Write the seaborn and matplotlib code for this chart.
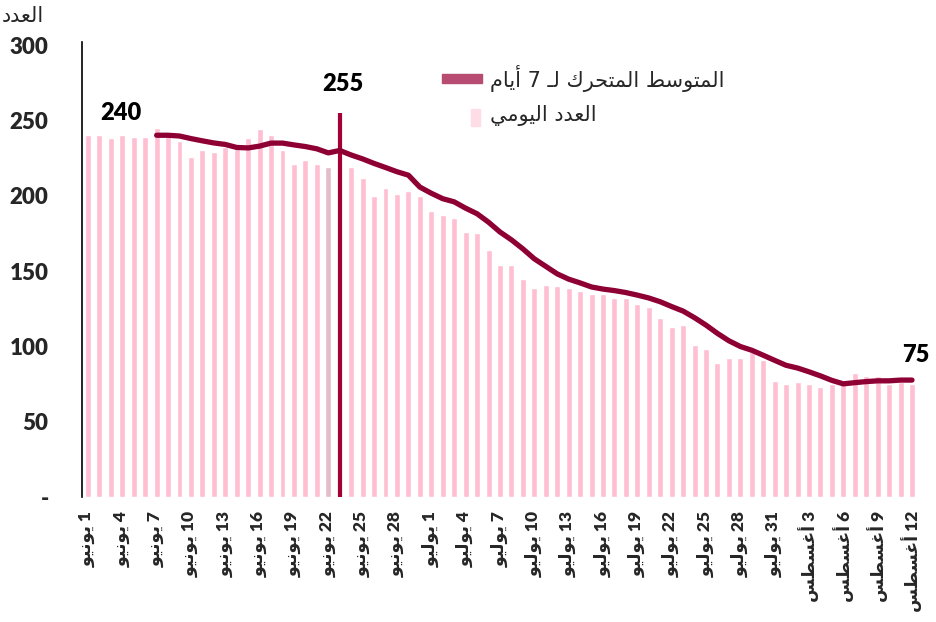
import re
import matplotlib
matplotlib.use("Agg")
import matplotlib.pyplot as plt
from matplotlib.patches import Rectangle
import numpy as np
import pandas as pd
import seaborn as sns

# ---------------- data ----------------
day_numbers = list(range(1, 31)) + list(range(1, 32)) + list(range(1, 13))
month_names = ["يونيو"] * 30 + ["يوليو"] * 31 + ["أغسطس"] * 12

daily = [240, 240, 238, 240, 239, 239, 245, 240, 236, 226,
         230, 229, 232, 231, 238, 244, 240, 230, 221, 224,
         221, 219, 255, 219, 212, 200, 205, 201, 203, 200,
         190, 187, 185, 176, 175, 164, 154, 154, 145, 139,
         141, 140, 139, 137, 135, 135, 132, 132, 128, 126,
         119, 113, 114, 101, 98, 89, 92, 92, 96, 91,
         77, 75, 76, 75, 73, 75, 75, 82, 80, 80,
         75, 76, 75]

moving_avg = [240.1, 240.1, 239.6, 237.9, 236.4, 235.0, 234.0, 232.0, 231.7, 232.9,
              234.9, 234.9, 233.7, 232.6, 231.1, 228.4, 230.0, 227.0, 224.4, 221.4,
              218.7, 215.9, 213.6, 205.7, 201.6, 198.0, 195.9, 191.7, 188.0, 182.4,
              175.9, 170.7, 164.7, 158.1, 153.1, 148.1, 144.6, 142.1, 139.4, 138.0,
              137.0, 135.7, 134.0, 132.1, 129.6, 126.4, 123.4, 119.0, 114.1, 108.6,
              103.7, 99.9, 97.4, 94.1, 90.7, 87.4, 85.6, 83.1, 80.4, 77.4,
              75.1, 75.9, 76.6, 77.1, 77.1, 77.6, 77.6]
ma_first_day = 6      # first day with a full 7-day window
ref_day = 21          # 22 June (highlighted bar)
peak_day = 22         # 23 June (vertical marker)

y_label = "العدد"
legend_ma = "المتوسط المتحرك لـ 7 أيام"
legend_daily = "العدد اليومي"

# ---------------- Arabic shaping helper ----------------
_R = {"ا": ("\uFE8D", "\uFE8E"), "أ": ("\uFE83", "\uFE84"), "د": ("\uFEA9", "\uFEAA"),
      "ر": ("\uFEAD", "\uFEAE"), "و": ("\uFEED", "\uFEEE")}
_D = {"ل": "\uFEDD\uFEDE\uFEDF\uFEE0", "ع": "\uFEC9\uFECA\uFECB\uFECC",
      "ي": "\uFEF1\uFEF2\uFEF3\uFEF4", "م": "\uFEE1\uFEE2\uFEE3\uFEE4",
      "ن": "\uFEE5\uFEE6\uFEE7\uFEE8", "غ": "\uFECD\uFECE\uFECF\uFED0",
      "س": "\uFEB1\uFEB2\uFEB3\uFEB4", "ط": "\uFEC1\uFEC2\uFEC3\uFEC4",
      "ت": "\uFE95\uFE96\uFE97\uFE98", "ح": "\uFEA1\uFEA2\uFEA3\uFEA4",
      "ك": "\uFED9\uFEDA\uFEDB\uFEDC", "ـ": "\u0640\u0640\u0640\u0640"}


def ar(text):
    out = []
    n = len(text)
    for i, c in enumerate(text):
        if c not in _R and c not in _D:
            out.append(c)
            continue
        prev = text[i - 1] if i > 0 else ""
        nxt = text[i + 1] if i + 1 < n else ""
        jp = prev in _D
        jn = c in _D and (nxt in _D or nxt in _R)
        if c in _R:
            out.append(_R[c][1] if jp else _R[c][0])
        else:
            f = _D[c]
            out.append(f[3] if (jp and jn) else f[1] if jp else f[2] if jn else f[0])
    tokens = re.findall(r"[0-9]+|.", "".join(out), flags=re.S)
    return "".join(tokens[::-1])


# ---------------- style ----------------
sns.set_style("white")
FAM = ["Lato", "DejaVu Sans"]
plt.rcParams["font.family"] = FAM

PINK = "#FFBFD3"
GREY = "#E3BCC9"
LINE = "#8E0034"
VLINE = "#A40035"
LEG_LINE = "#B84B72"
LEG_BAR = "#FFDDE7"

fig = plt.figure(figsize=(9.36, 6.22), dpi=100)
ax = fig.add_axes([82 / 936, 125 / 622, 838 / 936, 455 / 622])

df = pd.DataFrame({"pos": np.arange(len(daily)), "count": daily,
                   "day": day_numbers, "month": month_names})
df["kind"] = "daily"
df.loc[ref_day, "kind"] = "ref"
df.loc[peak_day, "kind"] = "peak"
bars = df[df["kind"] != "peak"]

sns.barplot(data=bars, x="pos", y="count", hue="kind",
            palette={"daily": PINK, "ref": GREY}, native_scale=True,
            width=0.52, dodge=False, saturation=1, errorbar=None,
            legend=False, ax=ax)

ax.vlines(df["pos"][peak_day], 0, df["count"][peak_day], color=VLINE, linewidth=3.0, zorder=4)

sns.lineplot(x=df["pos"][ma_first_day:].to_numpy(), y=moving_avg, color=LINE,
             linewidth=3.8, sort=False, ax=ax, zorder=5)

# data labels
lab_font = dict(fontsize=17, fontweight="heavy", color="black", ha="center", va="center")
ax.annotate(str(daily[0]), (df["pos"][0], daily[0]), xytext=(24, 16),
            textcoords="offset points", **lab_font)
ax.annotate(str(daily[peak_day]), (df["pos"][peak_day], daily[peak_day]), xytext=(2, 21),
            textcoords="offset points", **lab_font)
ax.annotate(str(daily[-1]), (df["pos"].iloc[-1], daily[-1]), xytext=(3, 21),
            textcoords="offset points", **lab_font)

# axes
ax.set_xlim(-0.52, 72.7)
ax.set_ylim(0, 302)
yt = [0, 50, 100, 150, 200, 250, 300]
ax.set_yticks(yt, ["-" if v == 0 else str(v) for v in yt])
ax.tick_params(axis="y", length=0, pad=24, labelsize=16)
for t in ax.get_yticklabels():
    t.set_fontweight("heavy")

tick_rows = df.iloc[::3]
ax.set_xticks(tick_rows["pos"],
              [ar(f"{d} {m}") for d, m in zip(tick_rows["day"], tick_rows["month"])],
              rotation=90)
ax.tick_params(axis="x", length=0, pad=10, labelsize=12.5)
for t in ax.get_xticklabels():
    t.set_fontweight("heavy")
    t.set_fontfamily(FAM)

ax.set_xlabel("")
ax.set_ylabel("")
for s in ["top", "right", "bottom"]:
    ax.spines[s].set_visible(False)
ax.spines["left"].set_color("black")
ax.spines["left"].set_linewidth(1.2)

fig.text(2 / 936, 1 - 16 / 622, ar(y_label), fontsize=15, ha="left", va="center",
         family=["DejaVu Sans"])

# legend (manual)
fig.add_artist(Rectangle((442 / 936, 1 - 83 / 622), 40 / 936, 9 / 622,
                         transform=fig.transFigure, color=LEG_LINE))
fig.text(490 / 936, 1 - 78 / 622, ar(legend_ma), fontsize=15, ha="left", va="center",
         family=["DejaVu Sans"])
fig.add_artist(Rectangle((471 / 936, 1 - 126 / 622), 9 / 936, 17 / 622,
                         transform=fig.transFigure, color=LEG_BAR))
fig.text(490 / 936, 1 - 115 / 622, ar(legend_daily), fontsize=15, ha="left", va="center",
         family=["DejaVu Sans"])

fig.savefig("out.png", dpi=100)
